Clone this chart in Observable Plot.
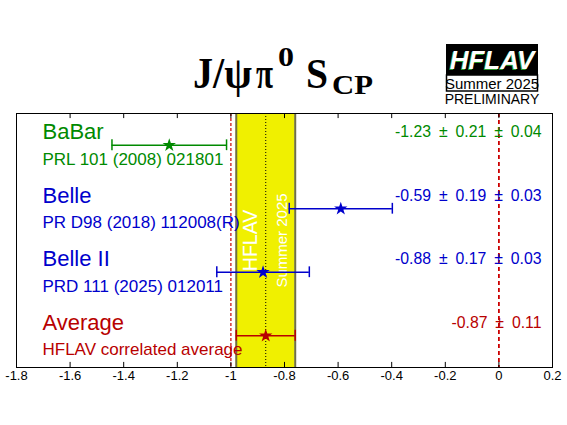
<!DOCTYPE html>
<html>
<head>
<meta charset="utf-8">
<script src="https://cdn.jsdelivr.net/npm/d3@7"></script>
<script src="https://cdn.jsdelivr.net/npm/@observablehq/plot@0.6"></script>
<style>
  html, body { margin: 0; padding: 0; background: white; }
</style>
</head>
<body>
<div id="chart"></div>
<script>
// ---- data ----
const names = ["BaBar", "Belle", "Belle II", "Average"];
const refs = ["PRL 101 (2008) 021801", "PR D98 (2018) 112008(R)", "PRD 111 (2025) 012011", "HFLAV correlated average"];
const values = [-1.23, -0.59, -0.88, -0.87];
const statErr = [0.21, 0.19, 0.17, 0.11];
const systErr = [0.04, 0.03, 0.03, null];
const colors = ["#008a00", "#0000cc", "#0000cc", "#b80000"];
const xTicks = [-1.8, -1.6, -1.4, -1.2, -1, -0.8, -0.6, -0.4, -0.2, 0, 0.2];
const refLines = [-1, 0];
const bandLabels = ["HFLAV", "Summer 2025"];
const titleText = ["J/\u03c8", "\u03c0", "0", "S", "CP"];

// ---- derived table ----
const sp = "\u2002";
const rows = names.map((n, i) => {
  const err = Math.hypot(statErr[i], systErr[i] ?? 0);
  const fmt = v => v.toFixed(2);
  const label = fmt(values[i]) + sp + "\u00b1" + sp + fmt(statErr[i]) +
    (systErr[i] != null ? sp + "\u00b1" + sp + fmt(systErr[i]) : "");
  return {name: n, ref: refs[i], value: values[i], lo: values[i] - err, hi: values[i] + err,
          row: i, color: colors[i], label};
});
const avg = rows[3];
const tickFmt = d => String(Math.round(d * 10) / 10);
const font = "'Liberation Sans', Arial, Helvetica, sans-serif";

const plot = Plot.plot({
  width: 567,
  height: 425,
  marginLeft: 16,
  marginRight: 15,
  marginTop: 113,
  marginBottom: 58,
  style: {fontFamily: font, background: "white", overflow: "visible"},
  x: {domain: [-1.8, 0.2], axis: null},
  y: {domain: [-0.5, 3.5], reverse: true, axis: null},
  marks: [
    Plot.rect([avg], {x1: "lo", x2: "hi", y1: -0.5, y2: 3.5, fill: "#f0f000"}),
    Plot.ruleX([avg.lo, avg.hi], {stroke: "#6e6e48", strokeWidth: 2}),
    Plot.ruleX([avg.value], {stroke: "black", strokeWidth: 1, strokeDasharray: "1,2"}),
    Plot.ruleX([refLines[0]], {stroke: "#cc0000", strokeWidth: 1.2, strokeDasharray: "3,2"}),
    Plot.ruleX([refLines[1]], {stroke: "#cc0000", strokeWidth: 1.8, strokeDasharray: "4,3"}),
    Plot.text([bandLabels[0]], {x: avg.lo, frameAnchor: "middle", dx: 14, rotate: -90, text: d => d,
      fill: "white", fontSize: 19.5}),
    Plot.text([bandLabels[1]], {x: avg.hi, frameAnchor: "middle", dx: -13.5, rotate: -90, text: d => d,
      fill: "white", fontSize: 15}),
    Plot.frame({stroke: "black"}),
    Plot.ruleX(xTicks, {x: d => d, y1: 3.5, y2: 3.42, stroke: "black"}),
    Plot.ruleX(xTicks, {x: d => d, y1: -0.5, y2: -0.42, stroke: "black"}),
    Plot.text(xTicks, {x: d => d, frameAnchor: "bottom", dy: 12, text: tickFmt, fontSize: 13, fill: "black"}),
    Plot.ruleY(rows, {y: "row", x1: "lo", x2: "hi", stroke: "color", strokeWidth: 1.5}),
    Plot.ruleX(rows, {x: "lo", y1: d => d.row - 0.085, y2: d => d.row + 0.085, stroke: "color", strokeWidth: 1.5}),
    Plot.ruleX(rows, {x: "hi", y1: d => d.row - 0.085, y2: d => d.row + 0.085, stroke: "color", strokeWidth: 1.5}),
    Plot.dot(rows, {x: "value", y: "row", symbol: "star", r: 4.2, fill: "color", stroke: "none"}),
    Plot.text(rows, {y: "row", frameAnchor: "left", dx: 26, dy: -13, text: "name", fill: "color",
      fontSize: 22, textAnchor: "start"}),
    Plot.text(rows, {y: "row", frameAnchor: "left", dx: 26, dy: 14, text: "ref", fill: "color",
      fontSize: 17, textAnchor: "start"}),
    Plot.text(rows, {y: "row", frameAnchor: "right", dx: -11, dy: -13, text: "label", fill: "color",
      fontSize: 15.8, textAnchor: "end"})
  ]
});

document.getElementById("chart").appendChild(plot);
const svg = d3.select(plot);

// Title: pieces placed and horizontally scaled to match the reference widths
const tg = svg.append("g")
  .attr("text-anchor", "start")
  .attr("font-family", "'Liberation Serif', 'Times New Roman', serif")
  .attr("font-weight", "bold").attr("fill", "black");
const pieces = [
  {s: titleText[0], x: 193, y: 88, size: 44, len: 59},
  {s: titleText[1], x: 256, y: 88, size: 44, len: 17},
  {s: titleText[2], x: 278, y: 66, size: 27, len: 16},
  {s: titleText[3], x: 306, y: 88, size: 42, len: 22},
  {s: titleText[4], x: 332, y: 94, size: 27, len: 41}
];
for (const p of pieces) {
  const el = tg.append("text").attr("font-size", p.size).text(p.s);
  const natural = el.node().getComputedTextLength() || p.len;
  el.attr("transform", `translate(${p.x},${p.y}) scale(${p.len / natural},1)`);
}

// HFLAV logo
const g = svg.append("g").attr("font-family", font).attr("text-anchor", "middle");
g.append("rect").attr("x", 446).attr("y", 44).attr("width", 92).attr("height", 31).attr("fill", "black");
g.append("text").attr("x", 491).attr("y", 70)
  .attr("font-size", 26).attr("font-weight", "bold").attr("font-style", "italic")
  .attr("fill", "#2a9a2a").text("HFLAV");
g.append("text").attr("x", 492).attr("y", 69)
  .attr("font-size", 26).attr("font-weight", "bold").attr("font-style", "italic")
  .attr("fill", "white").text("HFLAV");
g.append("rect").attr("x", 446.5).attr("y", 75).attr("width", 91).attr("height", 16)
  .attr("fill", "white").attr("stroke", "black").attr("stroke-width", 1.5);
g.append("text").attr("x", 492).attr("y", 88.5)
  .attr("font-size", 15).attr("fill", "black").text("Summer 2025");
g.append("text").attr("x", 492).attr("y", 104)
  .attr("font-size", 14).attr("fill", "black").text("PRELIMINARY");
</script>
</body>
</html>
